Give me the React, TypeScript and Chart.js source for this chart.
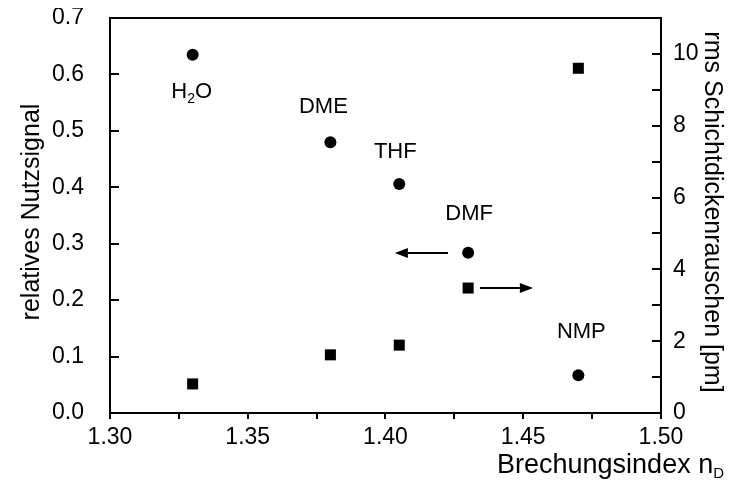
import React, { useEffect, useRef } from "react";
import { Chart, registerables } from "chart.js";

Chart.register(...registerables);

// ---- data ----
const solvents = ["H2O", "DME", "THF", "DMF", "NMP"];
const refractiveIndex = [1.33, 1.38, 1.405, 1.43, 1.47];
const relativeSignal = [0.635, 0.48, 0.406, 0.284, 0.067];
const rmsNoise = [0.81, 1.62, 1.89, 3.48, 9.6];

const xTicks = [1.3, 1.35, 1.4, 1.45, 1.5];
const yLeftTicks = [0, 0.1, 0.2, 0.3, 0.4, 0.5, 0.6, 0.7];
const yRightTicks = [0, 2, 4, 6, 8, 10];

// arrows: [xFrom, xTo] in data units, y in the respective axis units
const arrowLeft = { from: 1.4227, to: 1.4034, y: 0.284 };
const arrowRight = { from: 1.4343, to: 1.4535, y: 3.48 };

// label offsets in pixels (style only)
const labelOffsets: [number, number][] = [
  [-1, 37],
  [-7, -35],
  [-4, -32],
  [1, -39],
  [3, -43],
];

const FONT = "'Liberation Sans', Arial, sans-serif";
const LF = 22;

const overlayPlugin = {
  id: "overlay",
  afterDraw(chart: any) {
    const { ctx, chartArea: a, scales } = chart;
    const x = scales.x, yl = scales.y, yr = scales.y2;
    ctx.save();
    ctx.strokeStyle = "#000";
    ctx.fillStyle = "#000";
    ctx.lineWidth = 2;
    // frame
    ctx.strokeRect(a.left, a.top, a.right - a.left, a.bottom - a.top);
    // x ticks (outward, down)
    for (let v = 1.3; v <= 1.5001; v += 0.025) {
      const px = Math.round(x.getPixelForValue(v));
      ctx.beginPath();
      ctx.moveTo(px, a.bottom);
      ctx.lineTo(px, a.bottom + 6);
      ctx.stroke();
    }
    // right ticks (inward)
    for (let v = 0; v <= 11; v += 1) {
      const py = Math.round(yr.getPixelForValue(v));
      ctx.beginPath();
      ctx.moveTo(a.right, py);
      ctx.lineTo(a.right - 9, py);
      ctx.stroke();
    }
    // left ticks (inward)
    for (let v = 0; v <= 0.7001; v += 0.1) {
      const py = Math.round(yl.getPixelForValue(v));
      ctx.beginPath();
      ctx.moveTo(a.left, py);
      ctx.lineTo(a.left + 9, py);
      ctx.stroke();
    }

    // point labels
    ctx.font = `${LF}px ${FONT}`;
    ctx.textAlign = "center";
    ctx.textBaseline = "middle";
    solvents.forEach((s, i) => {
      const px = x.getPixelForValue(refractiveIndex[i]) + labelOffsets[i][0];
      const py = yl.getPixelForValue(relativeSignal[i]) + labelOffsets[i][1];
      if (s === "H2O") {
        const wH = ctx.measureText("H").width;
        ctx.font = `14px ${FONT}`;
        const w2 = ctx.measureText("2").width;
        ctx.font = `${LF}px ${FONT}`;
        const wO = ctx.measureText("O").width;
        const total = wH + w2 + wO;
        let cx = px - total / 2;
        ctx.textAlign = "left";
        ctx.fillText("H", cx, py);
        cx += wH;
        ctx.font = `14px ${FONT}`;
        ctx.fillText("2", cx, py + 7);
        cx += w2;
        ctx.font = `${LF}px ${FONT}`;
        ctx.fillText("O", cx, py);
        ctx.textAlign = "center";
      } else {
        ctx.fillText(s, px, py);
      }
    });

    // arrows
    const drawArrow = (x0: number, x1: number, y: number) => {
      const dir = Math.sign(x1 - x0);
      const head = 13;
      ctx.lineWidth = 2;
      ctx.beginPath();
      ctx.moveTo(x0, y);
      ctx.lineTo(x1 - dir * head, y);
      ctx.stroke();
      ctx.beginPath();
      ctx.moveTo(x1, y);
      ctx.lineTo(x1 - dir * head, y - 5);
      ctx.lineTo(x1 - dir * head, y + 5);
      ctx.closePath();
      ctx.fill();
    };
    drawArrow(
      x.getPixelForValue(arrowLeft.from),
      x.getPixelForValue(arrowLeft.to),
      Math.round(yl.getPixelForValue(arrowLeft.y))
    );
    drawArrow(
      x.getPixelForValue(arrowRight.from),
      x.getPixelForValue(arrowRight.to),
      Math.round(yr.getPixelForValue(arrowRight.y))
    );

    // axis titles
    const TF = 25;
    ctx.font = `${TF}px ${FONT}`;
    ctx.textBaseline = "middle";
    // left
    ctx.save();
    ctx.translate(24, 204);
    ctx.rotate(-Math.PI / 2);
    ctx.textAlign = "center";
    ctx.fillText("relatives Nutzsignal", 0, 0);
    ctx.restore();
    // right
    ctx.save();
    ctx.translate(chart.width - 16, 204);
    ctx.rotate(Math.PI / 2);
    ctx.textAlign = "center";
    ctx.fillText("rms Schichtdickenrauschen [pm]", 0, 0);
    ctx.restore();
    // x title with subscript
    const XF = 27;
    const main = "Brechungsindex n";
    ctx.font = `${XF}px ${FONT}`;
    const wMain = ctx.measureText(main).width;
    ctx.font = `15px ${FONT}`;
    const wSub = ctx.measureText("D").width;
    const right = chart.width - 4;
    const ty = chart.height - 22;
    ctx.textAlign = "left";
    ctx.font = `${XF}px ${FONT}`;
    ctx.fillText(main, right - wSub - wMain, ty);
    ctx.font = `15px ${FONT}`;
    ctx.fillText("D", right - wSub, ty + 8);
    ctx.restore();
  },
};

export default function App() {
  const ref = useRef<HTMLCanvasElement>(null);
  useEffect(() => {
    if (!ref.current) return;
    const tickFont = { family: FONT, size: 23 };
    const noPad = (s: any) => {
      s.paddingTop = 0;
      s.paddingBottom = 0;
      s.paddingLeft = 0;
      s.paddingRight = 0;
    };
    const chart = new Chart(ref.current, {
      type: "scatter",
      data: {
        datasets: [
          {
            label: "relatives Nutzsignal",
            data: refractiveIndex.map((v, i) => ({ x: v, y: relativeSignal[i] })),
            yAxisID: "y",
            pointStyle: "circle",
            pointRadius: 6,
            backgroundColor: "#000",
            borderColor: "#000",
            borderWidth: 0,
          },
          {
            label: "rms Schichtdickenrauschen",
            data: refractiveIndex.map((v, i) => ({ x: v, y: rmsNoise[i] })),
            yAxisID: "y2",
            pointStyle: "rect",
            pointRadius: 7.8,
            backgroundColor: "#000",
            borderColor: "#000",
            borderWidth: 0,
          },
        ],
      },
      options: {
        animation: false,
        responsive: false,
        maintainAspectRatio: false,
        layout: { padding: { top: 10, left: 0, right: 0, bottom: 0 } },
        plugins: { legend: { display: false }, tooltip: { enabled: false } },
        scales: {
          x: {
            type: "linear",
            min: 1.3,
            max: 1.5,
            afterBuildTicks: (s: any) => {
              s.ticks = xTicks.map((v) => ({ value: v }));
            },
            afterFit: (s: any) => {
              s.height = 75;
              noPad(s);
            },
            ticks: {
              color: "#000",
              font: tickFont,
              padding: 11,
              maxRotation: 0,
              autoSkip: false,
              callback: (v: any) => Number(v).toFixed(2),
            },
            grid: { display: false, drawTicks: false },
            border: { display: false },
          },
          y: {
            type: "linear",
            position: "left",
            min: 0,
            max: 0.7,
            afterBuildTicks: (s: any) => {
              s.ticks = yLeftTicks.map((v) => ({ value: v }));
            },
            afterFit: (s: any) => {
              s.width = 102;
              noPad(s);
            },
            ticks: {
              color: "#000",
              font: tickFont,
              padding: 26,
              autoSkip: false,
              callback: (v: any) => Number(v).toFixed(1),
            },
            grid: { display: false, drawTicks: false },
            border: { display: false },
          },
          y2: {
            type: "linear",
            position: "right",
            min: 0,
            max: 11,
            afterBuildTicks: (s: any) => {
              s.ticks = yRightTicks.map((v) => ({ value: v }));
            },
            afterFit: (s: any) => {
              s.width = 67;
              noPad(s);
            },
            ticks: {
              color: "#000",
              font: tickFont,
              padding: 12,
              autoSkip: false,
              callback: (v: any) => String(v),
            },
            grid: { display: false, drawTicks: false },
            border: { display: false },
          },
        },
      },
      plugins: [overlayPlugin],
    } as any);
    return () => chart.destroy();
  }, []);
  return (
    <div style={{ width: 720, height: 480, background: "#fff" }}>
      <canvas ref={ref} width={720} height={480} style={{ width: 720, height: 480 }} />
    </div>
  );
}
